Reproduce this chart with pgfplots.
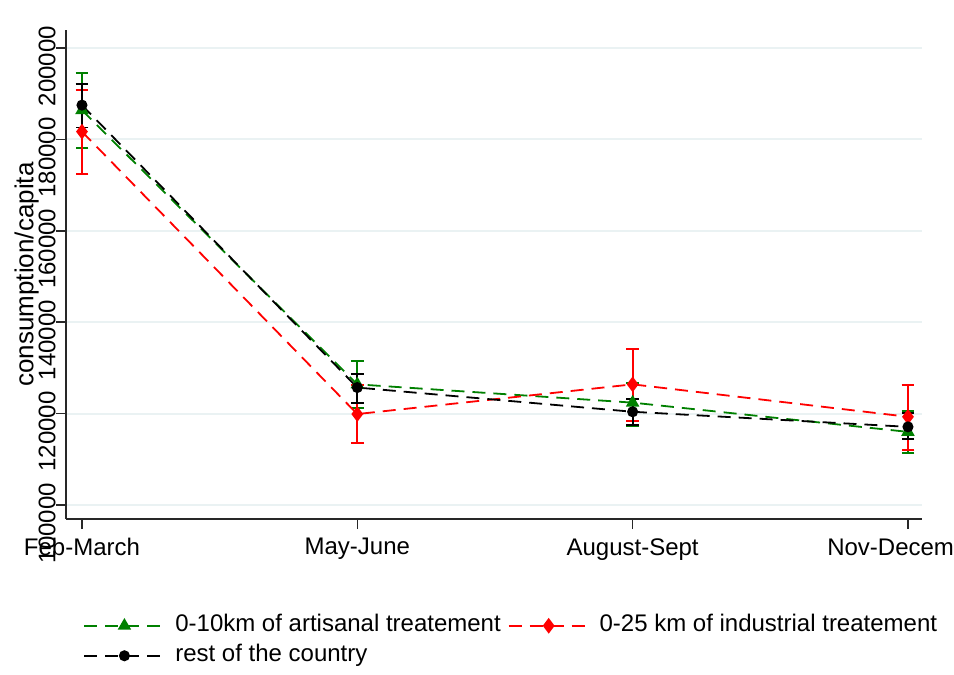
\documentclass[border=0pt]{standalone}
\usepackage{pgfplots}
\usepackage{pgfplotstable}
\pgfplotsset{compat=1.18}
\usepackage{fontspec}
\setmainfont{Liberation Sans}
\definecolor{sgreen}{RGB}{0,128,0}
\definecolor{sred}{RGB}{255,0,0}
\definecolor{sgrid}{RGB}{234,242,243}
\definecolor{saxis}{RGB}{40,40,40}

\pgfplotstableread{
x y lo hi
0 186400 178200 194600
1 126400 121300 131500
2 122400 117300 126700
3 116000 111400 120500
}\greendata
\pgfplotstableread{
x y lo hi
0 181700 172400 190800
1 119900 113500 126300
2 126400 118400 134100
3 119300 112000 126300
}\reddata
\pgfplotstableread{
x y lo hi
0 187500 182600 192050
1 125700 122300 128700
2 120400 117500 123200
3 117100 114400 120100
}\blackdata

\pgfplotsset{
  errplot/.style={forget plot, draw=none, mark=none,
    error bars/.cd, y dir=both, y explicit, error mark=|,
    error bar style={draw=#1, solid, line width=0.9pt},
    error mark options={draw=#1, solid, mark size=3.2pt, line width=0.9pt}},
  dashline/.style={line width=0.9pt, dash pattern=on 6.5pt off 4pt},
}

\begin{document}
\begin{tikzpicture}
\begin{axis}[
  at={(33pt,78pt)}, anchor=south west,
  scale only axis, width=428pt, height=244.5pt,
  xmin=-0.058, xmax=3.051, ymin=96937, ymax=203940,
  axis lines*=left,
  axis line style={line width=0.8pt, saxis},
  xtick={0,1,2,3},
  xticklabels={Feb-March,May-June,August-Sept,Nov-December},
  ytick={100000,120000,140000,160000,180000,200000},
  scaled y ticks=false,
  /pgf/number format/fixed,
  /pgf/number format/1000 sep={},
  /pgf/number format/assume math mode=true,
  ymajorgrids,
  grid style={sgrid, line width=1pt},
  tick align=outside,
  major tick length=5pt,
  tick style={saxis, line width=0.8pt},
  ticklabel style={font=\fontsize{12}{14}\selectfont},
  yticklabel style={rotate=90, anchor=south, inner sep=0pt, xshift=-9pt},
  xticklabel style={anchor=north, inner sep=0pt, yshift=-4.5pt},
  ylabel={consumption/capita},
  ylabel style={font=\fontsize{13}{15}\selectfont, at={(axis description cs:-0.046,0.5)}, anchor=center, inner sep=0pt},
  legend columns=2,
  legend cell align=left,
  legend style={
    at={(axis description cs:0.02,-0.193)}, anchor=north west,
    draw=none, fill=none, inner sep=0pt,
    font=\fontsize{12}{14}\selectfont,
    row sep=3pt,
    nodes={text height=9pt, text depth=3pt, inner ysep=0pt, inner xsep=3.5pt},
    /tikz/every even column/.style={column sep=0pt},
    /tikz/every odd column/.style={column sep=0pt},
  },
  legend image code/.code={%
    \draw[#1, mark repeat=2, mark phase=2] plot coordinates {(0pt,0pt) (20pt,0pt) (40pt,0pt)};
  },
]
% error bars
\addplot[errplot=sgreen] table[x=x, y=y, y error plus expr=\thisrow{hi}-\thisrow{y}, y error minus expr=\thisrow{y}-\thisrow{lo}] {\greendata};
\addplot[errplot=sred] table[x=x, y=y, y error plus expr=\thisrow{hi}-\thisrow{y}, y error minus expr=\thisrow{y}-\thisrow{lo}] {\reddata};
\addplot[errplot=black] table[x=x, y=y, y error plus expr=\thisrow{hi}-\thisrow{y}, y error minus expr=\thisrow{y}-\thisrow{lo}] {\blackdata};
% lines
\addplot[sgreen, dashline, mark=triangle*, mark size=3pt, mark options={solid, fill=sgreen}] table[x=x, y=y] {\greendata};
\addlegendentry{\hspace{1.5pt}0-10km of artisanal treatement}
\addplot[sred, dashline, mark=diamond*, mark size=3.2pt, mark options={solid, fill=sred}] table[x=x, y=y] {\reddata};
\addlegendentry{\hspace{1.5pt}0-25 km of industrial treatement}
\addplot[black, dashline, mark=*, mark size=2.3pt, mark options={solid, fill=black}] table[x=x, y=y] {\blackdata};
\addlegendentry{\hspace{1.5pt}rest of the country}
\end{axis}
\pgfresetboundingbox
\path[use as bounding box] (0,0) rectangle (477pt,337.5pt);
\end{tikzpicture}
\end{document}
